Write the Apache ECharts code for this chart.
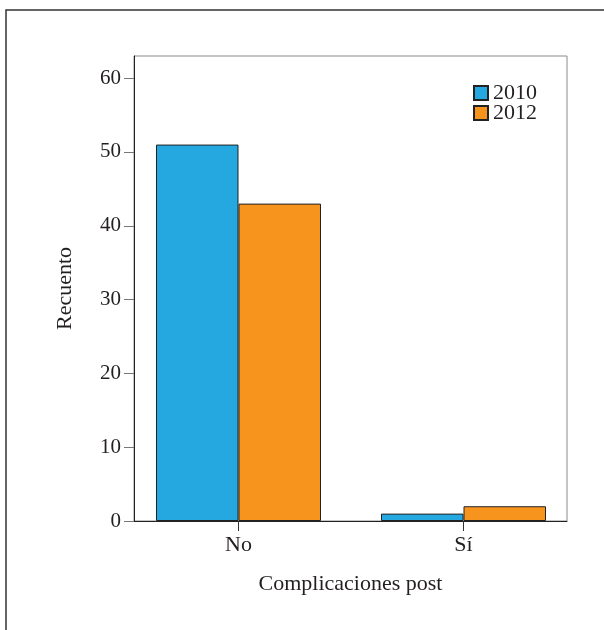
<!DOCTYPE html>
<html><head><meta charset="utf-8">
<script src="https://cdn.jsdelivr.net/npm/echarts@6/dist/echarts.min.js"></script>
<style>html,body{margin:0;padding:0;background:#fff}#c{width:604px;height:630px}</style>
</head><body><div id="c"></div>
<script>
var categories = ['No', 'Sí'];
var seriesNames = ['2010', '2012'];
var values2010 = [51, 1];
var values2012 = [43, 2];
var yTicks = [0, 10, 20, 30, 40, 50, 60];

var FONT = '"Liberation Serif", "DejaVu Serif", serif';
var TXT = '#231f20';
var chart = echarts.init(document.getElementById('c'), null, {renderer: 'canvas'});
var yMax = 63;
chart.setOption({
  animation: false,
  backgroundColor: '#fff',
  textStyle: {fontFamily: FONT},
  graphic: [
    {type: 'polyline', silent: true, z: 100, shape: {points: [[6, 630], [6, 10], [604, 10]]},
     style: {stroke: '#333', lineWidth: 1.5, fill: null}}
  ],
  legend: {
    orient: 'vertical', left: 468, top: 77,
    itemWidth: 14, itemHeight: 14, itemGap: -2,
    icon: 'rect',
    data: seriesNames,
    textStyle: {fontFamily: FONT, fontSize: 22, color: TXT, lineHeight: 20}
  },
  grid: [
    {left: 134, right: 37, top: 56, bottom: 109, show: true, borderColor: '#8a8a8a', borderWidth: 1, backgroundColor: 'transparent'},
    {left: 126, right: 28, top: 56, bottom: 109}
  ],
  xAxis: [
    {type: 'category', gridIndex: 0, data: categories,
     axisLine: {show: true, lineStyle: {color: '#222', width: 1}},
     axisTick: {show: false}, axisLabel: {show: false},
     name: 'Complicaciones post', nameLocation: 'middle', nameGap: 52,
     nameTextStyle: {fontFamily: FONT, fontSize: 22, color: TXT}},
    {type: 'category', gridIndex: 1, data: categories,
     axisLine: {show: false},
     axisTick: {show: true, alignWithLabel: true, length: 10, lineStyle: {color: '#333', width: 1}},
     axisLabel: {show: true, margin: 13, fontFamily: FONT, fontSize: 22, color: TXT}}
  ],
  yAxis: [
    {type: 'value', gridIndex: 0, min: 0, max: yMax, interval: 10,
     axisLine: {show: true, lineStyle: {color: '#222', width: 1}},
     axisTick: {show: true, length: 10, lineStyle: {color: '#777', width: 1},
                customValues: yTicks},
     axisLabel: {show: true, margin: 13, fontFamily: FONT, fontSize: 21, color: TXT,
                 customValues: yTicks},
     splitLine: {show: false},
     name: 'Recuento', nameLocation: 'middle', nameGap: 58, nameRotate: 90,
     nameTextStyle: {fontFamily: FONT, fontSize: 22, color: TXT}},
    {type: 'value', gridIndex: 1, min: 0, max: yMax, show: false, splitLine: {show: false}}
  ],
  series: [
    {name: seriesNames[0], type: 'bar', xAxisIndex: 1, yAxisIndex: 1, data: values2010,
     barWidth: 82.5, barGap: '0%',
     itemStyle: {color: '#25a8e0', borderColor: '#222', borderWidth: 1}},
    {name: seriesNames[1], type: 'bar', xAxisIndex: 1, yAxisIndex: 1, data: values2012,
     barWidth: 82.5, barGap: '0%',
     itemStyle: {color: '#f7941d', borderColor: '#222', borderWidth: 1}}
  ]
});
</script></body></html>
